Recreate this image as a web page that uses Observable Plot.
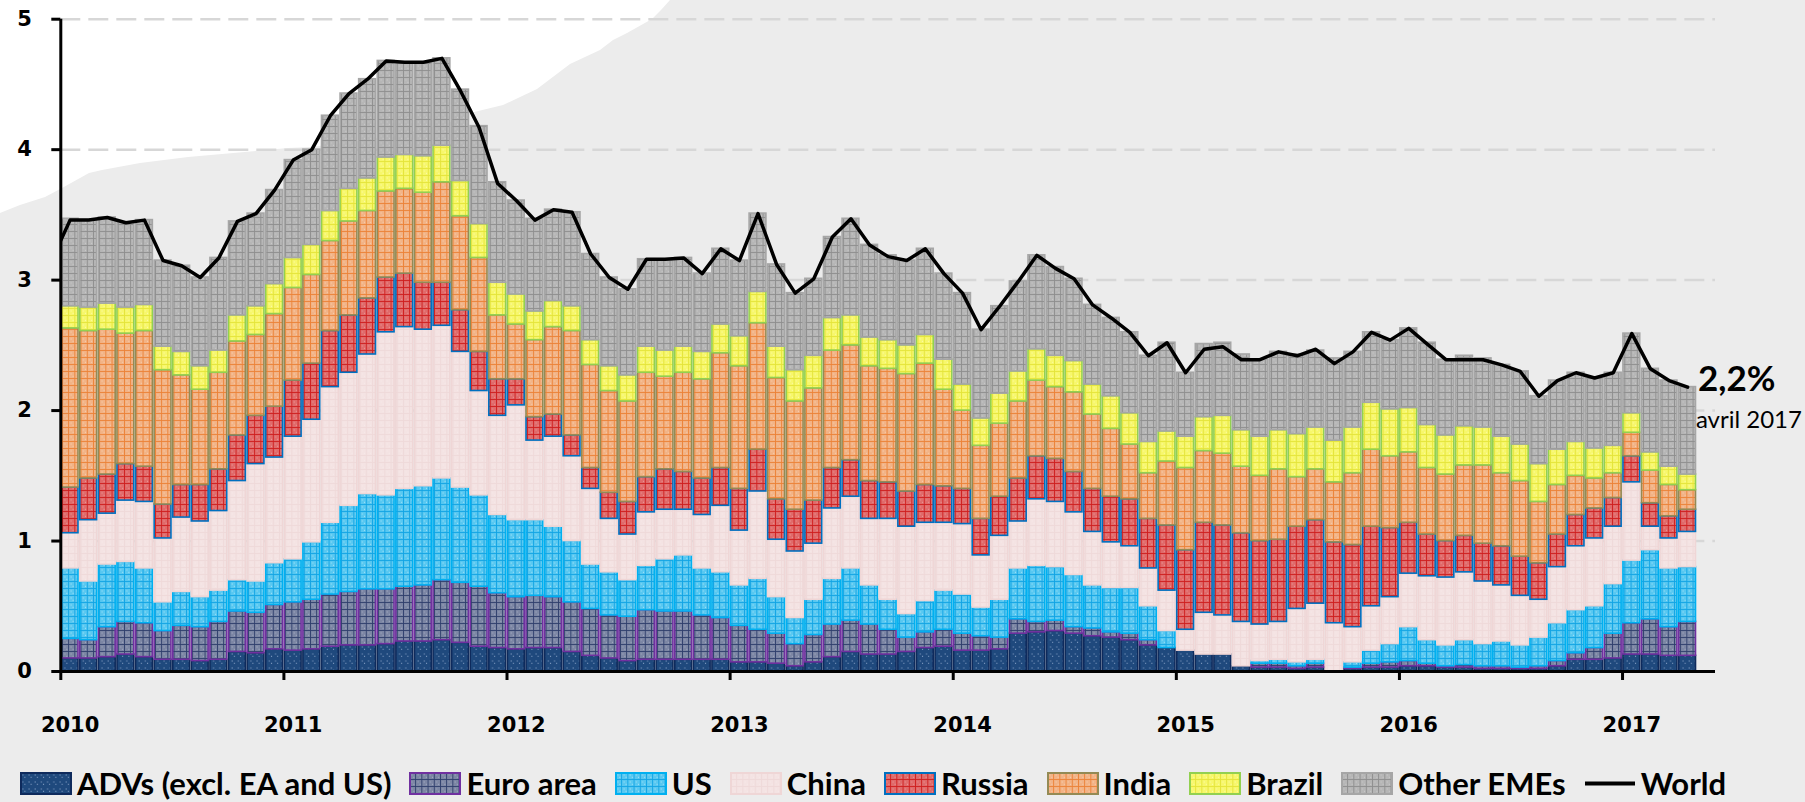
<!DOCTYPE html>
<html><head><meta charset="utf-8">
<script src="https://cdn.jsdelivr.net/npm/d3@7"></script>
<script src="https://cdn.jsdelivr.net/npm/@observablehq/plot@0.6"></script>
<style>
html,body{margin:0;padding:0;background:#ececec;width:1805px;height:802px;overflow:hidden;}
#wrap{position:relative;width:1805px;height:802px;}
#white{position:absolute;left:0;top:0;width:1805px;height:802px;background:#ffffff;
 clip-path:polygon(0px 0px,670px 0px,661px 10px,652px 19px,627px 33px,613px 40px,600px 50px,570px 64px,537px 89px,503px 105px,470px 113px,450px 122px,400px 135px,312px 147px,288px 148px,188px 157px,140px 163px,102px 170px,89px 173px,62px 188px,45px 197px,20px 205px,0px 213px);}
#chart{position:absolute;left:0;top:0;}
#legend{position:absolute;left:20px;top:768px;height:30px;line-height:30px;display:flex;align-items:center;font-family:Lato,sans-serif;font-weight:700;font-size:31px;color:#000;white-space:nowrap;}
.item{display:flex;align-items:center;margin-right:18px;height:30px;}
.item svg{margin-right:5px;display:block;}
</style></head><body>
<svg width="0" height="0" style="position:absolute;left:0;top:0"><defs id="defs"></defs></svg>
<div id="wrap"><div id="white"></div><div id="chart"></div><div id="legend"></div></div>
<script>
// ---- categories ----
const months = d3.utcMonth.range(new Date(Date.UTC(2010,0,1)), new Date(Date.UTC(2017,4,1))); // Jan 2010 .. Apr 2017
const years = ["2010","2011","2012","2013","2014","2015","2016","2017"];
const yTicks = [0,1,2,3,4,5];
const gridValues = [1,2,3,4,5];
const seriesNames = ["ADVs (excl. EA and US)","Euro area","US","China","Russia","India","Brazil","Other EMEs"];
const lineName = "World";
const endLabel = "2,2%";
const endDate = "avril 2017";

// ---- series values (percentage points) ----
const adv = [.10,.10,.11,.13,.11,.09,.09,.08,.09,.15,.14,.17, .16,.17,.19,.20,.20,.21,.23,.23,.24,.22,.19,.18, .17,.18,.18,.15,.12,.10,.08,.09,.09,.09,.09,.09, .07,.07,.06,.04,.07,.11,.15,.13,.13,.15,.18,.19, .16,.16,.17,.29,.30,.31,.29,.27,.26,.24,.20,.18, .16,.13,.13,.04,.03,.03,.02,.03,.00,.02,.03,.03, .04,.04,.03,.03,.02,.02,.02,.02,.04,.09,.09,.10, .13,.13,.12,.12];
const ea = [.15,.14,.23,.25,.26,.22,.26,.26,.29,.31,.31,.34, .37,.38,.40,.41,.43,.42,.42,.43,.46,.46,.46,.42, .40,.40,.39,.38,.36,.33,.34,.38,.37,.37,.34,.32, .28,.25,.23,.17,.21,.25,.24,.23,.19,.11,.12,.13, .13,.11,.09,.11,.08,.08,.05,.06,.04,.05,.04,.00, .00,.00,.00,.00,.03,.03,.02,.03,.00,.01,.03,.04, .04,.02,.01,.02,.02,.02,.01,.02,.04,.05,.09,.19, .24,.27,.22,.26];
const us = [.54,.45,.48,.46,.42,.22,.26,.23,.24,.24,.24,.32, .33,.44,.55,.66,.73,.72,.75,.76,.78,.73,.70,.60, .59,.58,.54,.47,.34,.33,.28,.34,.40,.43,.36,.35, .31,.39,.28,.20,.27,.35,.40,.30,.23,.18,.24,.30, .30,.22,.29,.39,.43,.41,.40,.33,.34,.35,.26,.13, .00,.00,.00,.00,.02,.03,.03,.03,.00,.04,.10,.14, .26,.18,.16,.19,.17,.19,.17,.22,.29,.33,.32,.38, .48,.53,.45,.42];
const china = [.27,.47,.39,.47,.51,.49,.57,.58,.61,.76,.90,.81, .94,.94,1.04,1.02,1.07,1.25,1.24,1.20,1.17,1.04,.80,.76, .88,.61,.69,.65,.58,.41,.35,.41,.38,.35,.41,.51, .42,.67,.44,.51,.43,.54,.55,.51,.62,.67,.60,.52, .54,.40,.49,.36,.51,.50,.48,.41,.35,.32,.29,.31, .16,.32,.30,.34,.28,.29,.41,.43,.37,.27,.34,.36, .41,.49,.52,.52,.48,.43,.38,.29,.43,.49,.52,.44, .60,.18,.23,.27];
const russia = [.35,.32,.30,.28,.27,.26,.25,.28,.32,.35,.37,.39, .43,.43,.43,.44,.43,.42,.41,.36,.33,.32,.30,.28, .20,.18,.17,.16,.16,.20,.25,.27,.31,.29,.28,.29, .32,.32,.31,.32,.33,.31,.28,.29,.28,.27,.29,.28, .27,.28,.30,.33,.33,.33,.31,.33,.35,.36,.38,.50, .61,.69,.69,.68,.64,.63,.63,.64,.62,.63,.61,.53, .39,.32,.28,.28,.29,.30,.30,.28,.25,.24,.23,.22, .20,.18,.17,.17];
const india = [1.22,1.13,1.11,1.00,1.04,1.03,.84,.73,.74,.72,.62,.71, .71,.68,.69,.72,.67,.66,.65,.69,.77,.72,.72,.49, .42,.59,.67,.80,.79,.78,.77,.80,.71,.76,.76,.88, .94,.97,.93,.83,.86,.90,.88,.88,.87,.90,.93,.74, .60,.56,.56,.59,.58,.55,.61,.57,.52,.42,.35,.49, .63,.55,.55,.51,.50,.54,.38,.39,.46,.55,.59,.55, .54,.51,.51,.54,.60,.56,.58,.47,.38,.30,.23,.19, .18,.25,.24,.15];
const brazil = [.17,.18,.20,.20,.20,.18,.18,.18,.17,.20,.22,.23, .23,.23,.23,.25,.25,.26,.26,.28,.28,.27,.26,.25, .23,.22,.20,.19,.19,.19,.20,.20,.20,.20,.21,.22, .23,.24,.24,.24,.25,.25,.23,.22,.22,.22,.22,.23, .20,.21,.23,.23,.24,.24,.24,.23,.25,.24,.24,.23, .24,.26,.29,.28,.30,.30,.33,.32,.32,.35,.36,.36, .34,.33,.30,.30,.29,.28,.28,.29,.27,.26,.23,.21, .15,.14,.14,.12];
const other = [.67,.67,.66,.65,.65,.66,.66,.68,.71,.72,.71,.72, .75,.73,.73,.73,.76,.74,.71,.72,.67,.70,.75,.77, .72,.71,.70,.72,.66,.68,.66,.67,.69,.68,.60,.58, .58,.60,.63,.59,.59,.62,.74,.71,.65,.65,.66,.66, .70,.68,.67,.69,.72,.68,.63,.61,.60,.62,.66,.68, .49,.56,.56,.58,.59,.60,.61,.59,.63,.58,.54,.53, .61,.63,.58,.54,.53,.55,.56,.52,.53,.53,.54,.56, .61,.64,.66,.67];
const world = [3.46,3.46,3.48,3.44,3.46,3.15,3.11,3.02,3.17,3.45,3.51,3.69, 3.92,4.00,4.26,4.43,4.54,4.68,4.67,4.67,4.70,4.45,4.17,3.74, 3.61,3.46,3.54,3.52,3.20,3.02,2.93,3.16,3.16,3.17,3.05,3.24, 3.15,3.51,3.12,2.90,3.01,3.33,3.47,3.27,3.18,3.15,3.24,3.05, 2.90,2.62,2.80,2.99,3.19,3.09,3.01,2.81,2.71,2.60,2.42,2.52, 2.29,2.47,2.49,2.39,2.39,2.45,2.42,2.47,2.36,2.45,2.60,2.54, 2.63,2.51,2.39,2.39,2.39,2.35,2.30,2.11,2.23,2.29,2.25,2.29, 2.59,2.32,2.23,2.18];
const worldDec2009 = 3.15; // previous month, clipped at the axis

// ---- styles ----
const patternStyles = [
  {base:"#1f497d", line:"#1f497d", dot:"#8fa8cc"},
  {base:"#7c86a4", line:"#2f3e6c", dot:"#a7afc6"},
  {base:"#58c8f1", line:"#12a4e4", dot:"#a9e4f9"},
  {base:"#f4e3e3", line:"#efd9d9", dot:"#f7eaea"},
  {base:"#e06a6a", line:"#cf1e1e", dot:"#ee9c9c"},
  {base:"#f2b386", line:"#ec8237", dot:"#f8d1b3"},
  {base:"#f7f76b", line:"#e4e43a", dot:"#fbfbb2"},
  {base:"#b6b6b6", line:"#8e8e8e", dot:"#cdcdcd"}
];
const strokeColors = ["#0e2a5c","#7030a0","#00b0f0","#efd6d6","#0070c0","#948a54","#92d050","#a6a6a6"];

// patterns
const defs = d3.select("#defs");
patternStyles.forEach((p, s) => {
  const pat = defs.append("pattern").attr("id", "pat" + s).attr("patternUnits", "userSpaceOnUse")
    .attr("width", 6.2).attr("height", 7);
  pat.append("rect").attr("width", 6.2).attr("height", 7).attr("fill", p.base);
  pat.append("rect").attr("width", 6.2).attr("height", 0.9).attr("fill", p.line);
  pat.append("rect").attr("width", 0.9).attr("height", 7).attr("fill", p.line);
  pat.append("rect").attr("x", 2.3).attr("y", 2.5).attr("width", 1).attr("height", 1).attr("fill", p.dot);
  pat.append("rect").attr("x", 4.4).attr("y", 4.8).attr("width", 1).attr("height", 1).attr("fill", p.dot);
});

// ---- build rows ----
const seriesValues = [adv, ea, us, china, russia, india, brazil, other];
const rows = [];
months.forEach((m, i) => {
  let acc = 0;
  seriesValues.forEach((vals, s) => {
    const v = vals[i];
    if (v > 0) rows.push({i, s, y1: acc, y2: acc + v});
    acc += v;
  });
});
const worldRows = [{x: -0.5, w: worldDec2009}, ...world.map((w, i) => ({x: i + 0.5, w}))];
const yearRows = years.map((label, k) => ({start: k * 12, label}));
const last = [{x: months.length, w: world[world.length - 1]}];

const axisFont = "DejaVu Sans";
const chart = Plot.plot({
  width: 1805, height: 766,
  marginLeft: 60.3, marginRight: 90, marginTop: 18.7, marginBottom: 95,
  x: {domain: [0, 89], axis: null},
  y: {domain: [0, 5], axis: null},
  style: {background: "transparent", overflow: "visible"},
  marks: [
    Plot.ruleY(gridValues, {stroke: "#d7d7d7", strokeWidth: 2.5, strokeDasharray: "20,8"}),
    ...seriesNames.map((name, s) => Plot.rect(rows.filter(r => r.s === s), {
      x1: d => d.i, x2: d => d.i + 1, y1: "y1", y2: "y2",
      insetLeft: 0.9, insetRight: 0.9,
      fill: `url(#pat${s})`, stroke: strokeColors[s], strokeWidth: 1.6
    })),
    Plot.line(worldRows, {x: "x", y: "w", stroke: "#000", strokeWidth: 3.5, clip: true}),
    Plot.ruleY([0], {stroke: "#000", strokeWidth: 3}),
    Plot.ruleX([0], {stroke: "#000", strokeWidth: 3}),
    Plot.axisY({ticks: yTicks, tickSize: 9, tickPadding: 20, strokeWidth: 3, tickFormat: d => String(d), label: null,
      fontSize: 21, fontFamily: axisFont, fontWeight: "bold", fill: "#000"}),
    Plot.axisX({ticks: yearRows.map(d => d.start), tickSize: 9, strokeWidth: 3, tickFormat: () => "", label: null}),
    Plot.text(yearRows, {x: d => d.start + 0.5, y: 0, dy: 53.5, text: "label", lineAnchor: "middle",
      fontSize: 21, fontFamily: axisFont, fontWeight: "bold", fill: "#000"}),
    Plot.text(last, {x: "x", y: "w", dx: 1, dy: -7, text: () => endLabel, textAnchor: "start", lineAnchor: "middle",
      fontSize: 35, fontFamily: "Lato", fontWeight: "bold", fill: "#000"}),
    Plot.text(last, {x: "x", y: "w", dx: -1, dy: 33, text: () => endDate, textAnchor: "start", lineAnchor: "middle",
      fontSize: 24, fontFamily: "Lato", fill: "#000"})
  ]
});
document.getElementById("chart").appendChild(chart);

// ---- legend ----
const legend = d3.select("#legend");
seriesNames.forEach((name, s) => {
  const item = legend.append("div").attr("class", "item");
  const sw = item.append("svg").attr("width", 52).attr("height", 23);
  sw.append("rect").attr("x", 1).attr("y", 1).attr("width", 50).attr("height", 21)
    .attr("fill", `url(#pat${s})`).attr("stroke", strokeColors[s]).attr("stroke-width", 2);
  item.append("span").text(name);
});
const wi = legend.append("div").attr("class", "item");
const wsv = wi.append("svg").attr("width", 52).attr("height", 23);
wsv.append("line").attr("x1", 1).attr("x2", 51).attr("y1", 11.5).attr("y2", 11.5).attr("stroke", "#000").attr("stroke-width", 4);
wi.append("span").text(lineName);
</script>
</body></html>
